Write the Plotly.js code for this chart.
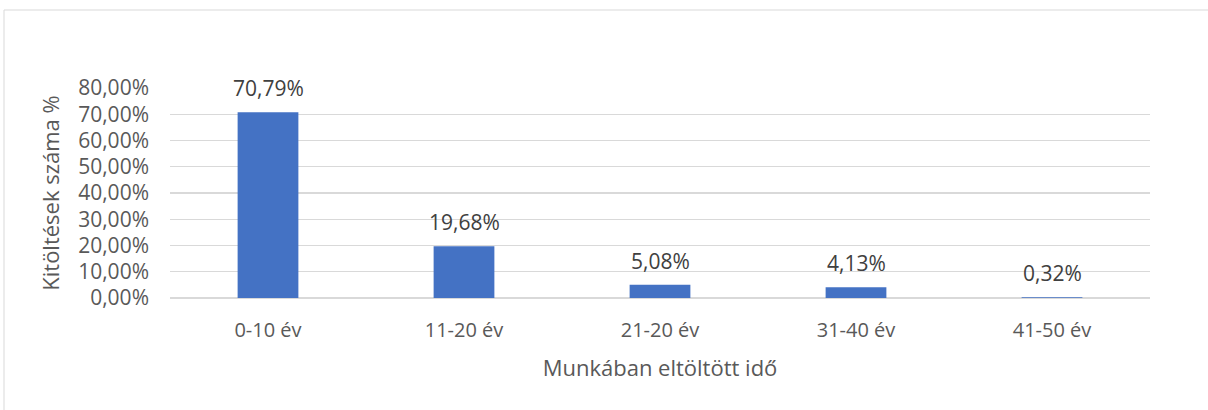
<!DOCTYPE html>
<html>
<head>
<meta charset="utf-8">
<script src="https://cdn.plot.ly/plotly-3.0.1.min.js"></script>
<style>html,body{margin:0;padding:0;background:#fff;}#chart{width:1208px;height:410px;}</style>
</head>
<body>
<div id="chart"></div>
<script>
const categories = ["0-10 év", "11-20 év", "21-20 év", "31-40 év", "41-50 év"];
const values = [0.7079, 0.1968, 0.0508, 0.0413, 0.0032];
const valueLabels = ["70,79%", "19,68%", "5,08%", "4,13%", "0,32%"];
const yTitle = "Kitöltések száma %";
const xTitle = "Munkában eltöltött idő";

const gray = "#595959";
const fontFam = "'Open Sans', sans-serif";

const trace = {
  type: "bar",
  x: categories,
  y: values,
  marker: {color: "#4472c4"},
  hoverinfo: "skip"
};

const annotations = categories.map((c, i) => ({
  x: c, y: values[i], xref: "x", yref: "y",
  text: valueLabels[i], showarrow: false,
  yanchor: "middle", yshift: 24,
  font: {family: fontFam, size: 21, color: "#404040"}
}));

const layout = {
  width: 1208, height: 410,
  margin: {l: 170, r: 58, t: 88, b: 112},
  paper_bgcolor: "#fff", plot_bgcolor: "#fff",
  separators: ",.",
  bargap: 0.69,
  showlegend: false,
  font: {family: fontFam, size: 21, color: gray},
  xaxis: {
    type: "category",
    showgrid: false, showline: false, zeroline: false,
    ticks: "", ticklabelstandoff: 18,
    tickfont: {family: fontFam, size: 20, color: gray},
    title: {text: xTitle, standoff: 18, font: {family: fontFam, size: 22, color: gray}},
    automargin: false
  },
  yaxis: {
    range: [0, 0.8], tickvals: [0,0.1,0.2,0.3,0.4,0.5,0.6,0.7,0.8],
    tickformat: ".2%",
    showgrid: true, gridcolor: "#d9d9d9", gridwidth: 1.3,
    zeroline: true, zerolinecolor: "#d9d9d9", zerolinewidth: 1.3,
    showline: false, ticks: "", ticklabelstandoff: 20,
    tickfont: {family: fontFam, size: 21, color: gray},
    title: {text: yTitle, standoff: 12, font: {family: fontFam, size: 22, color: gray}},
    automargin: false
  },
  annotations: annotations,
  shapes: [{
    type: "rect", xref: "paper", yref: "paper",
    x0: (4-170)/980, x1: (1215-170)/980,
    y0: (298-420)/210, y1: (298-10)/210,
    line: {color: "#d9d9d9", width: 1}, fillcolor: "rgba(0,0,0,0)", layer: "below"
  }]
};

Plotly.newPlot("chart", [trace], layout, {displayModeBar: false, staticPlot: true});
</script>
</body>
</html>
